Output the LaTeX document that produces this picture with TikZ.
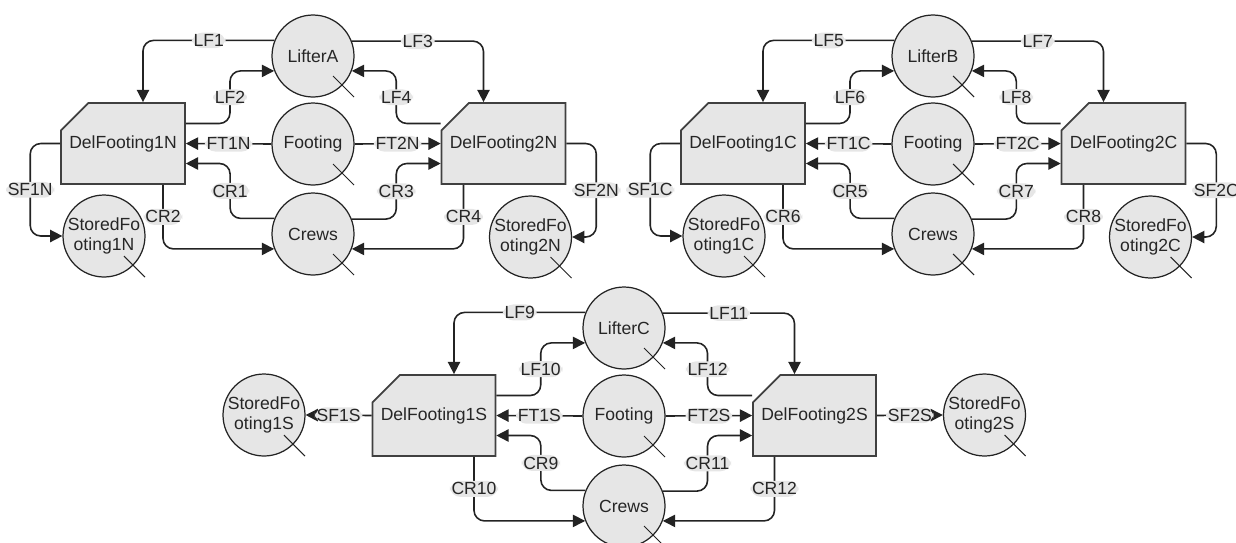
\documentclass[tikz,border=0pt]{standalone}
\usepackage{fontspec}
\setmainfont{Liberation Sans}
\usetikzlibrary{arrows.meta,shapes.misc,calc}
\definecolor{netfill}{RGB}{230,230,230}
\definecolor{netline}{RGB}{35,35,35}

\begin{document}
\begin{tikzpicture}[
    x=0.02cm, y=-0.02cm,
    font=\fontsize{10}{11.5}\selectfont,
    place/.style={circle, draw=netline, line width=0.7pt, fill=netfill, minimum size=1.64cm, inner sep=0pt, align=center, text=black!85},
    trans/.style={chamfered rectangle, chamfered rectangle corners=north west, chamfered rectangle xsep=0.4cm, chamfered rectangle ysep=0.38cm, draw=black!75, line width=1pt, fill=netfill, minimum width=2.42cm, minimum height=1.62cm, inner sep=0pt, text=black!85},
    arc/.style={-{Triangle[length=7pt,width=7pt]}, line width=0.9pt, draw=netline, rounded corners=6pt},
    lbl/.style={fill=netfill, inner sep=1pt, text=black!85},
    tick/.style={line width=0.6pt, draw=netline}
]
\useasboundingbox (0,0) rectangle (1236,542);

% north
\node[place] (lifterA) at (313,56) {LifterA};
\node[place] (footN) at (313,144) {Footing};
\node[place] (crewsN) at (313,234) {Crews};
\node[trans] (box1N) at (123,143.5) {DelFooting1N};
\node[trans] (box2N) at (503.5,143.5) {DelFooting2N};
\node[place] (sf1N) at (104,236) {StoredFo\\oting1N};
\node[place] (sf2N) at (530.5,237) {StoredFo\\oting2N};
\coordinate (b1Nup) at ($(box1N.east)+(0,-20)$);
\coordinate (b1Ndn) at ($(box1N.east)+(0,20)$);
\coordinate (b2Nup) at ($(box2N.west)+(0,-20)$);
\coordinate (b2Ndn) at ($(box2N.west)+(0,20)$);

\draw[arc] (lifterA.158.5) -| node[lbl,pos=.25] {LF1} ($(box1N.north)+(20,0)$);
\draw[arc] (b1Nup) -| ($(b1Nup)!.5!(lifterA.201.5)$) node[lbl] {LF2} |- (lifterA.201.5);
\draw[arc] (footN.west) -- node[lbl] {FT1N} (box1N.east);
\draw[arc] (crewsN.158.5) -| ($(crewsN.158.5)!.5!(b1Ndn)$) node[lbl] {CR1} |- (b1Ndn);
\draw[arc] ($(box1N.south)+(40,0)$) |- node[lbl,pos=.25] {CR2} (crewsN.201.5);
\draw[arc] (box1N.west) -- ++(-30,0) |- node[lbl,pos=.25] {SF1N} (sf1N.west);
\draw[arc] (lifterA.21.5) -| node[lbl,pos=.25] {LF3} ($(box2N.north)+(-20,0)$);
\draw[arc] (b2Nup) -| ($(b2Nup)!.5!(lifterA.-21.5)$) node[lbl] {LF4} |- (lifterA.-21.5);
\draw[arc] (footN.east) -- node[lbl] {FT2N} (box2N.west);
\draw[arc] (crewsN.21.5) -| ($(crewsN.21.5)!.5!(b2Ndn)$) node[lbl] {CR3} |- (b2Ndn);
\draw[arc] ($(box2N.south)+(-40,0)$) |- node[lbl,pos=.25] {CR4} (crewsN.-21.5);
\draw[arc] (box2N.east) -- ++(30,0) |- node[lbl,pos=.25] {SF2N} (sf2N.east);

% centre
\begin{scope}[shift={(620,0)}]
\node[place] (lifterB) at (313,56) {LifterB};
\node[place] (footC) at (313,144) {Footing};
\node[place] (crewsC) at (313,234) {Crews};
\node[trans] (box1C) at (123,143.5) {DelFooting1C};
\node[trans] (box2C) at (503.5,143.5) {DelFooting2C};
\node[place] (sf1C) at (104,236) {StoredFo\\oting1C};
\node[place] (sf2C) at (530.5,237) {StoredFo\\oting2C};
\coordinate (b1Cup) at ($(box1C.east)+(0,-20)$);
\coordinate (b1Cdn) at ($(box1C.east)+(0,20)$);
\coordinate (b2Cup) at ($(box2C.west)+(0,-20)$);
\coordinate (b2Cdn) at ($(box2C.west)+(0,20)$);
\end{scope}

\draw[arc] (lifterB.158.5) -| node[lbl,pos=.25] {LF5} ($(box1C.north)+(20,0)$);
\draw[arc] (b1Cup) -| ($(b1Cup)!.5!(lifterB.201.5)$) node[lbl] {LF6} |- (lifterB.201.5);
\draw[arc] (footC.west) -- node[lbl] {FT1C} (box1C.east);
\draw[arc] (crewsC.158.5) -| ($(crewsC.158.5)!.5!(b1Cdn)$) node[lbl] {CR5} |- (b1Cdn);
\draw[arc] ($(box1C.south)+(40,0)$) |- node[lbl,pos=.25] {CR6} (crewsC.201.5);
\draw[arc] (box1C.west) -- ++(-30,0) |- node[lbl,pos=.25] {SF1C} (sf1C.west);
\draw[arc] (lifterB.21.5) -| node[lbl,pos=.25] {LF7} ($(box2C.north)+(-20,0)$);
\draw[arc] (b2Cup) -| ($(b2Cup)!.5!(lifterB.-21.5)$) node[lbl] {LF8} |- (lifterB.-21.5);
\draw[arc] (footC.east) -- node[lbl] {FT2C} (box2C.west);
\draw[arc] (crewsC.21.5) -| ($(crewsC.21.5)!.5!(b2Cdn)$) node[lbl] {CR7} |- (b2Cdn);
\draw[arc] ($(box2C.south)+(-40,0)$) |- node[lbl,pos=.25] {CR8} (crewsC.-21.5);
\draw[arc] (box2C.east) -- ++(30,0) |- node[lbl,pos=.25] {SF2C} (sf2C.east);

% south
\begin{scope}[shift={(311,272)}]
\node[place] (lifterC) at (313,56) {LifterC};
\node[place] (footS) at (313,144) {Footing};
\node[place] (crewsS) at (313,234) {Crews};
\node[trans] (box1S) at (123,143.5) {DelFooting1S};
\node[trans] (box2S) at (503.5,143.5) {DelFooting2S};
\node[place] (sf1S) at (-47,143) {StoredFo\\oting1S};
\node[place] (sf2S) at (673.5,143) {StoredFo\\oting2S};
\coordinate (b1Sup) at ($(box1S.east)+(0,-20)$);
\coordinate (b1Sdn) at ($(box1S.east)+(0,20)$);
\coordinate (b2Sup) at ($(box2S.west)+(0,-20)$);
\coordinate (b2Sdn) at ($(box2S.west)+(0,20)$);
\end{scope}

\draw[arc] (lifterC.158.5) -| node[lbl,pos=.25] {LF9} ($(box1S.north)+(20,0)$);
\draw[arc] (b1Sup) -| ($(b1Sup)!.5!(lifterC.201.5)$) node[lbl] {LF10} |- (lifterC.201.5);
\draw[arc] (footS.west) -- node[lbl] {FT1S} (box1S.east);
\draw[arc] (crewsS.158.5) -| ($(crewsS.158.5)!.5!(b1Sdn)$) node[lbl] {CR9} |- (b1Sdn);
\draw[arc] ($(box1S.south)+(40,0)$) |- node[lbl,pos=.25] {CR10} (crewsS.201.5);
\draw[arc] (box1S.west) -- node[lbl] {SF1S} (sf1S.east);
\draw[arc] (lifterC.21.5) -| node[lbl,pos=.25] {LF11} ($(box2S.north)+(-20,0)$);
\draw[arc] (b2Sup) -| ($(b2Sup)!.5!(lifterC.-21.5)$) node[lbl] {LF12} |- (lifterC.-21.5);
\draw[arc] (footS.east) -- node[lbl] {FT2S} (box2S.west);
\draw[arc] (crewsS.21.5) -| ($(crewsS.21.5)!.5!(b2Sdn)$) node[lbl] {CR11} |- (b2Sdn);
\draw[arc] ($(box2S.south)+(-40,0)$) |- node[lbl,pos=.25] {CR12} (crewsS.-21.5);
\draw[arc] (box2S.east) -- node[lbl] {SF2S} (sf2S.west);

% ticks on the places
\foreach \n in {lifterA,footN,crewsN,sf1N,sf2N,lifterB,footC,crewsC,sf1C,sf2C,lifterC,footS,crewsS,sf1S,sf2S}
  \draw[tick] (\n.center) ++(20,20) -- ++(21,21);
\end{tikzpicture}
\end{document}
